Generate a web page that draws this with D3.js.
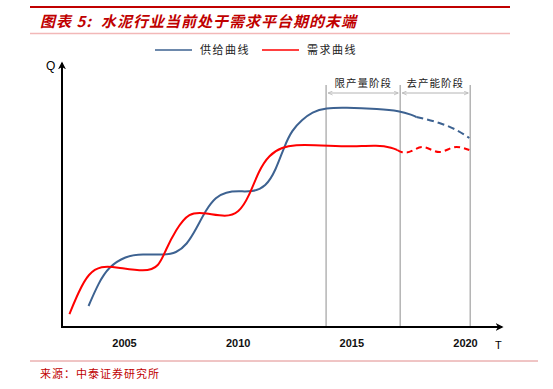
<!DOCTYPE html>
<html>
<head>
<meta charset="utf-8">
<script src="https://cdn.jsdelivr.net/npm/d3@7"></script>
<style>
  body { margin: 0; background: #fff; }
  svg { display: block; }
</style>
</head>
<body>
<svg id="chart"></svg>
<script>
// supply curve (year, quantity index)
const supplySolid = [
    [2003.44, 7.95], [2003.88, 16.67], [2004.32, 22.73], [2005.07, 26.89], [2005.78, 27.65],
    [2006.83, 27.27], [2007.28, 28.03], [2007.76, 31.06], [2008.20, 37.5], [2008.60, 44.32],
    [2009.04, 49.24], [2009.48, 51.14], [2010.05, 51.52], [2010.63, 51.14], [2011.24, 53.03],
    [2011.68, 59.47], [2012.04, 68.18], [2012.39, 74.62], [2012.83, 78.41], [2013.27, 81.44],
    [2013.89, 82.95], [2014.68, 83.14], [2016.23, 82.58], [2017.11, 81.82], [2017.68, 80.30],
    [2017.86, 79.55]
];
const supplyDashed = [
    [2017.86, 79.55], [2018.87, 77.27], [2019.62, 74.62], [2020.19, 71.59]
];
// demand curve
const demandSolid = [
    [2002.60, 4.92], [2003.00, 13.26], [2003.44, 20.45], [2004.01, 23.11], [2004.63, 22.73],
    [2005.95, 20.83], [2006.53, 22.73], [2006.83, 29.17], [2007.28, 36.74], [2007.85, 43.56],
    [2008.60, 43.18], [2009.48, 41.67], [2010.05, 43.18], [2010.49, 49.24], [2010.94, 59.47],
    [2011.38, 65.15], [2011.95, 68.18], [2012.57, 68.94], [2013.27, 68.94], [2014.77, 68.18],
    [2016.23, 68.94], [2016.80, 67.80], [2017.02, 67.05]
];
const demandDashed = [
    [2017.02, 67.05], [2017.20, 66.29], [2017.42, 66.10], [2018.12, 68.18], [2018.87, 66.29],
    [2019.62, 68.18], [2020.19, 67.05]
];
const yearTicks = [2005, 2010, 2015, 2020];
const phaseBounds = [2013.89, 2017.15, 2020.23];
const phaseLabels = ["限产量阶段", "去产能阶段"];
const seriesNames = ["供给曲线", "需求曲线"];
const title = "图表 5:  水泥行业当前处于需求平台期的末端";
const source = "来源：中泰证券研究所";

const W = 553, H = 389;
const blue = "#3d6291", red = "#ff0000", grey = "#b4b4b4";
const axisLeft = 62, axisBottom = 327, axisTop = 63, axisRight = 502;

const svg = d3.select("#chart").attr("width", W).attr("height", H);

const x = d3.scaleLinear().domain([2005, 2020]).range([124, 465]);
const y = d3.scaleLinear().domain([0, 100]).range([axisBottom, axisTop]);

// header
svg.append("line").attr("x1", 30).attr("x2", 510).attr("y1", 7).attr("y2", 7)
    .attr("stroke", "#c00000").attr("stroke-width", 2);
svg.append("text")
    .attr("x", 40).attr("y", 27)
    .attr("font-family", "'Noto Sans CJK SC', sans-serif")
    .attr("font-size", "15px")
    .attr("font-weight", "bold")
    .attr("font-style", "italic")
    .attr("letter-spacing", "1px")
    .attr("fill", "#c00000")
    .style("white-space", "pre")
    .text(title);
svg.append("line").attr("x1", 30).attr("x2", 510).attr("y1", 33.5).attr("y2", 33.5)
    .attr("stroke", "#f2b8b8").attr("stroke-width", 1.5);

// legend
const legendItems = [
    { name: seriesNames[0], color: blue, x: 155 },
    { name: seriesNames[1], color: red, x: 262 }
];
const legend = svg.append("g");
legendItems.forEach(d => {
    legend.append("line").attr("x1", d.x).attr("x2", d.x + 37).attr("y1", 50).attr("y2", 50)
        .attr("stroke", d.color).attr("stroke-width", 1.5);
    legend.append("text").attr("x", d.x + 45).attr("y", 54)
        .attr("font-family", "'Noto Sans CJK SC', sans-serif")
        .attr("font-size", "11px").attr("fill", "#222")
        .attr("letter-spacing", "1.5px")
        .text(d.name);
});

// arrow markers
const defs = svg.append("defs");
defs.append("marker").attr("id", "arrowBlack")
    .attr("viewBox", "0 0 10 10").attr("refX", 8).attr("refY", 5)
    .attr("markerWidth", 4).attr("markerHeight", 4).attr("orient", "auto")
    .append("path").attr("d", "M0,0 L10,5 L0,10 L3,5 z").attr("fill", "#000");
defs.append("marker").attr("id", "arrowGrey")
    .attr("viewBox", "0 0 10 10").attr("refX", 9).attr("refY", 5)
    .attr("markerWidth", 5).attr("markerHeight", 5).attr("orient", "auto-start-reverse")
    .append("path").attr("d", "M0,1 L9,5 L0,9").attr("fill", "none")
    .attr("stroke", grey).attr("stroke-width", 1.5);

// phase boundaries
const phases = svg.append("g");
phases.selectAll("line")
    .data(phaseBounds)
    .join("line")
    .attr("x1", d => x(d)).attr("x2", d => x(d))
    .attr("y1", 85).attr("y2", axisBottom)
    .attr("stroke", grey).attr("stroke-width", 1.5);

const spans = d3.pairs(phaseBounds);
phases.selectAll(".span")
    .data(spans)
    .join("line")
    .attr("class", "span")
    .attr("x1", d => x(d[0]) + 2).attr("x2", d => x(d[1]) - 2)
    .attr("y1", 93).attr("y2", 93)
    .attr("stroke", grey).attr("stroke-width", 1)
    .attr("marker-start", "url(#arrowGrey)")
    .attr("marker-end", "url(#arrowGrey)");
phases.selectAll(".phase-label")
    .data(spans)
    .join("text")
    .attr("class", "phase-label")
    .attr("x", d => (x(d[0]) + x(d[1])) / 2)
    .attr("y", 87)
    .attr("text-anchor", "middle")
    .attr("font-family", "'Noto Sans CJK SC', sans-serif")
    .attr("font-size", "10.5px")
    .attr("letter-spacing", "1px")
    .attr("fill", "#222")
    .text((d, i) => phaseLabels[i]);

// curves: solid parts smoothed, dashed projections keep their wiggles
const smooth = d3.line().x(d => x(d[0])).y(d => y(d[1])).curve(d3.curveBasis);
const wiggle = d3.line().x(d => x(d[0])).y(d => y(d[1])).curve(d3.curveMonotoneX);

const curves = [
    { data: supplySolid, color: blue, dash: null, gen: smooth },
    { data: supplyDashed, color: blue, dash: "7,4", gen: wiggle },
    { data: demandSolid, color: red, dash: null, gen: smooth },
    { data: demandDashed, color: red, dash: "6,4", gen: wiggle }
];
svg.append("g").selectAll("path")
    .data(curves)
    .join("path")
    .attr("d", d => d.gen(d.data))
    .attr("fill", "none")
    .attr("stroke", d => d.color)
    .attr("stroke-width", 2)
    .attr("stroke-dasharray", d => d.dash);

// axes
svg.append("line")
    .attr("x1", axisLeft).attr("x2", axisLeft)
    .attr("y1", axisBottom + 1).attr("y2", axisTop)
    .attr("stroke", "#000").attr("stroke-width", 2)
    .attr("marker-end", "url(#arrowBlack)");
svg.append("line")
    .attr("x1", axisLeft - 1).attr("x2", axisRight)
    .attr("y1", axisBottom).attr("y2", axisBottom)
    .attr("stroke", "#000").attr("stroke-width", 2)
    .attr("marker-end", "url(#arrowBlack)");

const xAxis = svg.append("g")
    .attr("transform", `translate(0, ${axisBottom})`)
    .call(d3.axisBottom(x).tickValues(yearTicks).tickFormat(d3.format("d")).tickSize(0).tickPadding(12));
xAxis.select(".domain").remove();
xAxis.selectAll("text")
    .attr("font-family", "Arial, 'Liberation Sans', sans-serif")
    .attr("font-size", "11px")
    .attr("font-weight", "bold")
    .attr("fill", "#111");

svg.append("text").attr("x", 46).attr("y", 70)
    .attr("font-family", "Arial, 'Liberation Sans', sans-serif")
    .attr("font-size", "12px").text("Q");
svg.append("text").attr("x", 495).attr("y", 349)
    .attr("font-family", "Arial, 'Liberation Sans', sans-serif")
    .attr("font-size", "11px").text("T");

// footer
svg.append("line").attr("x1", 30).attr("x2", 538).attr("y1", 361).attr("y2", 361)
    .attr("stroke", "#e08a8a").attr("stroke-width", 1);
svg.append("text")
    .attr("x", 40).attr("y", 378)
    .attr("font-family", "'Noto Sans CJK SC', sans-serif")
    .attr("font-size", "11px")
    .attr("letter-spacing", "1px")
    .attr("fill", "#c00000")
    .text(source);
</script>
</body>
</html>
